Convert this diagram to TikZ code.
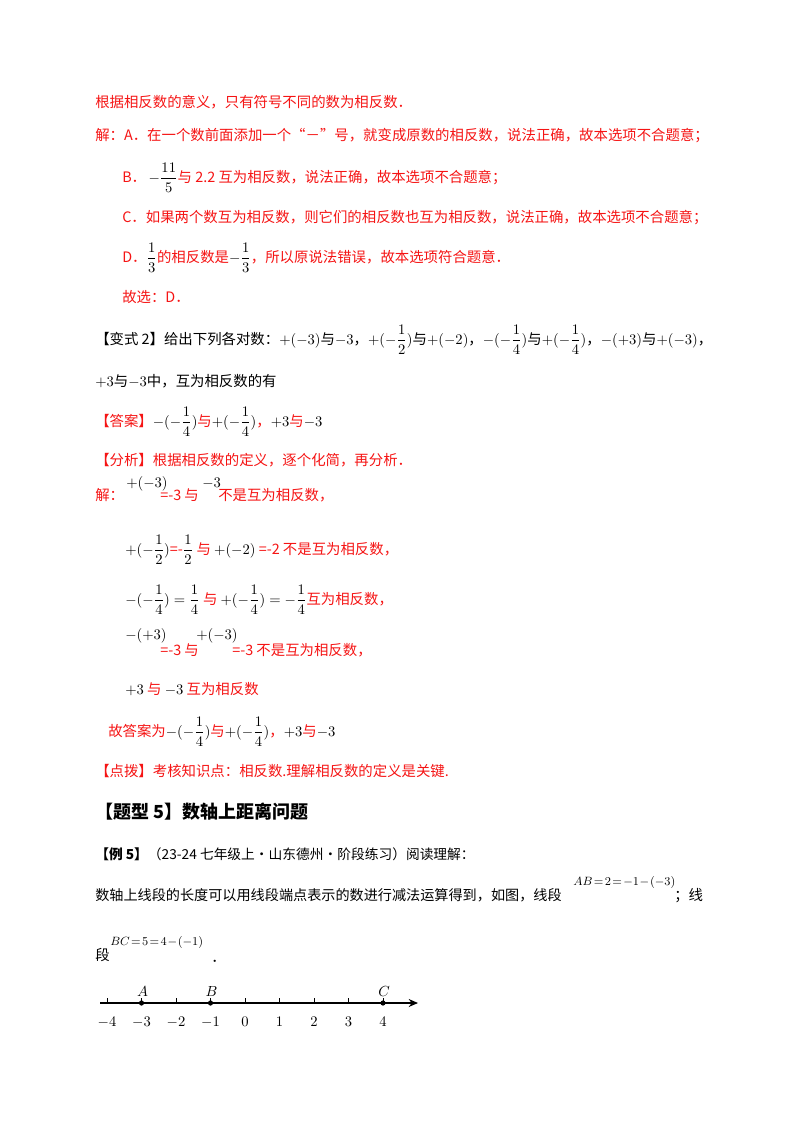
\documentclass[tikz,border=0pt]{standalone}
\usepackage{amsmath}
\usepackage{fontspec}
\setmainfont{Noto Sans CJK SC}
\usetikzlibrary{arrows.meta}
\definecolor{rd}{RGB}{245,20,20}
\newcommand{\tightm}{\thickmuskip=2mu\relax\medmuskip=1mu\relax}
\tikzset{t/.style={anchor=base west,inner sep=0pt,font=\fontsize{10.8}{12}\selectfont},
 r/.style={t,text=rd},
 fm/.style={anchor=base west,inner sep=0pt,font=\fontsize{9.5}{11}\selectfont}}
\begin{document}
\begin{tikzpicture}[x=0.75pt,y=-0.75pt]
\useasboundingbox (0,0) rectangle (800,1132);
\node[r] (l1) at (95,107) {根据相反数的意义，只有符号不同的数为相反数．};
\node[r] (l2) at (95,140) {解：A．在一个数前面添加一个“－”号，就变成原数的相反数，说法正确，故本选项不合题意；};
\node[r] (l3) at (122,182) {B．\,{\color{black}$-\dfrac{11}{5}$}与 2.2 互为相反数，说法正确，故本选项不合题意；};
\node[r] (l4) at (122,222) {C．如果两个数互为相反数，则它们的相反数也互为相反数，说法正确，故本选项不合题意；};
\node[r] (l5) at (122,262) {D．{\color{black}$\dfrac13$}的相反数是{\color{black}$-\dfrac13$}，所以原说法错误，故本选项符合题意．};
\node[r] (l6) at (122,302) {故选：D．};
\node[t] (l7) at (95,344) {【变式 2】给出下列各对数：$+(-3)$与$-3$，$+(-\dfrac12)$与$+(-2)$，$-(-\dfrac14)$与$+(-\dfrac14)$，$-(+3)$与$+(-3)$，};
\node[t] (l8) at (95,386) {$+3$与$-3$中，互为相反数的有};
\node[r] (l9) at (95,426) {【答案】{\color{black}$-(-\dfrac14)$}与{\color{black}$+(-\dfrac14)$}，{\color{black}$+3$}与{\color{black}$-3$}};
\node[r] (l10) at (95,465) {【分析】根据相反数的定义，逐个化简，再分析．};
\node[r] (l11) at (95,500) {解：};
\node[t] (m1) at (126,487) {$+(-3)$};
\node[r] (m2) at (160,500) {=-3 与};
\node[t] (m3) at (202,487) {$-3$};
\node[r] (m4) at (218,500) {不是互为相反数，};
\node[r] (l12) at (125,554) {{\color{black}$+(-\dfrac12)$}=-{\color{black}$\dfrac12$} 与 {\color{black}$+(-2)$} =-2 不是互为相反数，};
\node[r] (l13) at (125,604) {{\color{black}$-(-\dfrac14)=\dfrac14$} 与 {\color{black}$+(-\dfrac14)=-\dfrac14$}互为相反数，};
\node[t] (n1) at (125,639) {$-(+3)$};
\node[r] (n2) at (160,655) {=-3 与};
\node[t] (n3) at (196,639) {$+(-3)$};
\node[r] (n4) at (232,655) {=-3 不是互为相反数，};
\node[r] (l14) at (125,694) {{\color{black}$+3$} 与 {\color{black}$-3$} 互为相反数};
\node[r] (l15) at (108,736) {故答案为{\color{black}$-(-\dfrac14)$}与{\color{black}$+(-\dfrac14)$}，{\color{black}$+3$}与{\color{black}$-3$}};
\node[r] (l16) at (95,776) {【点拨】考核知识点：相反数.理解相反数的定义是关键.};
\node[t,font=\fontsize{13.5}{15}\bfseries\selectfont] (h) at (95,818) {【题型 5】数轴上距离问题};
\node[t,font=\fontsize{10.3}{12}\selectfont] (e5) at (95,859) {\textbf{【例 5】}（23-24 七年级上·山东德州·阶段练习）阅读理解：};
\node[t,font=\fontsize{10.6}{12}\selectfont] (p1) at (95,900) {数轴上线段的长度可以用线段端点表示的数进行减法运算得到，如图，线段};
\node[fm] (p2) at (573,885) {$\tightm AB=2=-1-\left(-3\right)$};
\node[t] (p3) at (674,900) {；线};
\node[t] (p4) at (95,960) {段};
\node[fm] (p5) at (110,945) {$\tightm BC=5=4-\left(-1\right)$};
\node[t] (p6) at (211,962) {．};
% number line
\coordinate (s) at (100,1003);
\coordinate (e) at (418,1003);
\draw[line width=0.8pt,-{Stealth[length=7pt,width=6pt]}] (s) -- (e);
\foreach \v [count=\i from 0] in {-4,-3,-2,-1,0,1,2,3,4} {
  \draw[line width=0.6pt] ({107+34.5*\i},1003) -- ({107+34.5*\i},998);
  \node[font=\fontsize{10.5}{12}\selectfont,inner sep=0pt] (k\i) at ({107+34.5*\i},1022) {$\v$};
}
\foreach \n/\i in {A/1,B/3,C/8} {
  \fill ({107+34.5*\i},1003) circle (2.6);
  \node[font=\fontsize{10.5}{12}\selectfont,inner sep=0pt] (lab\n) at ({107+34.5*\i+1},991) {$\n$};
}
\end{tikzpicture}
\end{document}
